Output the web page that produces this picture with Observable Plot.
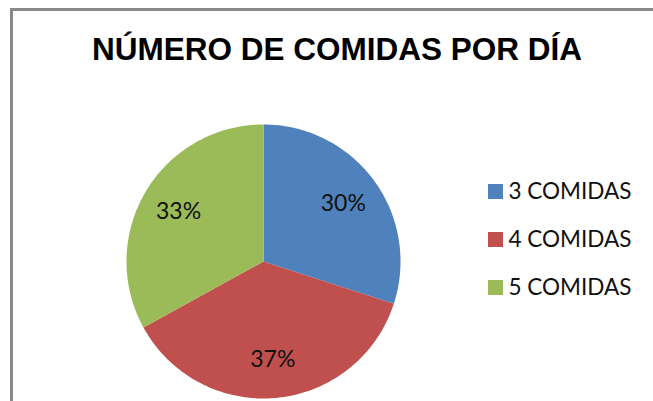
<!DOCTYPE html>
<html><head><meta charset="utf-8">
<script src="https://cdn.jsdelivr.net/npm/d3@7"></script>
<script src="https://cdn.jsdelivr.net/npm/@observablehq/plot@0.6"></script>
<style>
html,body{margin:0;padding:0;background:#fff;}
#wrap{position:relative;width:653px;height:401px;overflow:hidden;}
#frame{position:absolute;left:10px;top:8px;width:720px;height:460px;border:3px solid #8a8a8a;box-sizing:border-box;}
#chart{position:absolute;left:0;top:0;}
</style></head><body>
<div id="wrap"><div id="frame"></div><div id="chart"></div></div>
<script>
const title = "NÚMERO DE COMIDAS POR DÍA";
const categories = ["3 COMIDAS", "4 COMIDAS", "5 COMIDAS"];
const values = [30, 37, 33];
const labels = ["30%", "37%", "33%"];
const colors = ["#4F81BD", "#C0504D", "#9BBB59"];

const W = 653, H = 401;
const cx = 263, cy = 261, R = 137;
const xScale = {domain: [-1, 1], range: [cx - R, cx + R]};
const yScale = {domain: [-1, 1], range: [cy + R, cy - R]};
const toX = px => (px - cx) / R;
const toY = py => (cy - py) / R;

const arcs = d3.pie().sort(null).value(d => d.value)(
  categories.map((c, i) => ({category: c, value: values[i], label: labels[i]}))
);
const slicePts = [];
for (const a of arcs) {
  slicePts.push({category: a.data.category, x: 0, y: 0});
  const n = 120;
  for (let k = 0; k <= n; k++) {
    const t = a.startAngle + (a.endAngle - a.startAngle) * k / n;
    slicePts.push({category: a.data.category, x: Math.sin(t), y: Math.cos(t)});
  }
}
const labelR = 0.72;
const labelData = arcs.map(a => {
  const m = (a.startAngle + a.endAngle) / 2;
  return {label: a.data.label, x: Math.sin(m) * labelR, y: Math.cos(m) * labelR};
});
const legendData = categories.map((c, i) => ({
  category: c, x: toX(495), tx: toX(508), y: toY(191 + i * 48)
}));
const font = "Lato, 'Open Sans', sans-serif";

const chart = Plot.plot({
  width: W, height: H,
  margin: 0,
  x: {...xScale, axis: null},
  y: {...yScale, axis: null},
  color: {domain: categories, range: colors},
  style: {background: "transparent", overflow: "visible"},
  marks: [
    Plot.line(slicePts, {x: "x", y: "y", z: "category", fill: "category", strokeWidth: 0, curve: "linear"}),
    Plot.text(labelData, {x: "x", y: "y", text: "label", fontSize: 23, fontFamily: font, fill: "#111", lineAnchor: "middle"}),
    Plot.dot(legendData, {x: "x", y: "y", symbol: "square", r: 15 / Math.sqrt(Math.PI), fill: "category", stroke: null}),
    Plot.text(legendData, {x: "tx", y: "y", text: "category", textAnchor: "start", fontSize: 22.5, fontFamily: font, fill: "#111", lineAnchor: "middle"}),
    Plot.text([title], {frameAnchor: "top-left", dx: 336.5, dy: 59, text: d => d, textAnchor: "middle", lineAnchor: "bottom", fontSize: 31.5, fontWeight: "bold", fontFamily: "'Liberation Sans', Arial, sans-serif", fill: "#000"})
  ]
});
document.getElementById("chart").appendChild(chart);
</script>
</body></html>
